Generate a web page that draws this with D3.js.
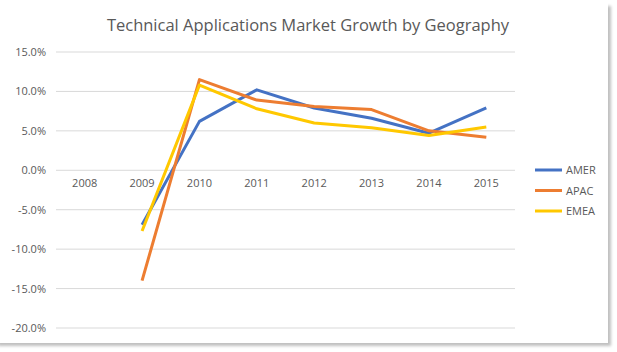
<!DOCTYPE html>
<html>
<head>
<meta charset="utf-8">
<script src="https://cdn.jsdelivr.net/npm/d3@7"></script>
<style>
  body { margin: 0; background: #fff; }
  text { font-family: "Open Sans", "Liberation Sans", sans-serif; }
</style>
</head>
<body>
<div id="vis"></div>
<script>
const years = ["2008", "2009", "2010", "2011", "2012", "2013", "2014", "2015"];
const seriesNames = ["AMER", "APAC", "EMEA"];
const colors = ["#4472c4", "#ed7d31", "#ffc800"];
// null = no value for that year
const amer = [null, -6.9, 6.2, 10.2, 7.9, 6.6, 4.7, 7.9];
const apac = [null, -14.0, 11.5, 8.9, 8.1, 7.7, 5.0, 4.2];
const emea = [null, -7.7, 10.8, 7.8, 6.0, 5.4, 4.4, 5.5];
const yTicks = [15, 10, 5, 0, -5, -10, -15, -20];

const WIDTH = 617;
const HEIGHT = 352;
const margin = { top: 52, bottom: 24, left: 56, right: 102 };

const svg = d3.select("#vis").append("svg")
  .attr("width", WIDTH).attr("height", HEIGHT);

// chart frame with soft shadow on right / bottom
const defs = svg.append("defs");
const f = defs.append("filter").attr("id", "sh")
  .attr("x", "-5%").attr("y", "-5%").attr("width", "110%").attr("height", "110%");
f.append("feGaussianBlur").attr("in", "SourceAlpha").attr("stdDeviation", 1.8);
f.append("feOffset").attr("dx", 3).attr("dy", 3).attr("result", "b");
f.append("feComponentTransfer").append("feFuncA").attr("type", "linear").attr("slope", 0.25);
const m = f.append("feMerge");
m.append("feMergeNode");
m.append("feMergeNode").attr("in", "SourceGraphic");

svg.append("rect")
  .attr("x", -5).attr("y", 3).attr("width", 613).attr("height", 340)
  .attr("fill", "#fff").attr("filter", "url(#sh)");

const x = d3.scaleBand().domain(years).range([margin.left, 515]);
const y = d3.scaleLinear().domain([-20, 15]).range([328, margin.top]);

// gridlines
svg.append("g")
  .selectAll("line").data(yTicks).join("line")
  .attr("x1", margin.left).attr("x2", 515)
  .attr("y1", d => y(d)).attr("y2", d => y(d))
  .attr("stroke", "#d9d9d9").attr("stroke-width", 1);

// y axis labels
const ejeY = d3.axisLeft(y).tickValues(yTicks).tickSize(0).tickPadding(8)
  .tickFormat(d => d.toFixed(1) + "%");
svg.append("g")
  .attr("transform", `translate(${margin.left - 2}, 0)`)
  .call(ejeY)
  .call(g => g.select(".domain").remove())
  .selectAll("text")
  .attr("fill", "#595959").style("font-size", "11px")
  .style("font-family", "'Open Sans', 'Liberation Sans', sans-serif");

// x axis labels sit on the 0% line
const ejeX = d3.axisBottom(x).tickSize(0).tickPadding(9);
svg.append("g")
  .attr("transform", `translate(0, ${y(0)})`)
  .call(ejeX)
  .call(g => g.select(".domain").remove())
  .selectAll("text")
  .attr("fill", "#595959").style("font-size", "11px")
  .style("font-family", "'Open Sans', 'Liberation Sans', sans-serif");

// lines
const data = [amer, apac, emea];
const line = d3.line()
  .defined(d => d != null)
  .x((d, i) => x(years[i]) + x.bandwidth() / 2)
  .y(d => y(d));

svg.append("g")
  .selectAll("path").data(data).join("path")
  .attr("d", line)
  .attr("fill", "none")
  .attr("stroke", (d, i) => colors[i])
  .attr("stroke-width", 3)
  .attr("stroke-linejoin", "round")
  .attr("stroke-linecap", "butt");

// title
svg.append("text")
  .attr("x", 308).attr("y", 31)
  .attr("text-anchor", "middle")
  .attr("fill", "#595959")
  .style("font-size", "16.5px")
  .text("Technical Applications Market Growth by Geography");

// legend
const legend = svg.append("g")
  .selectAll("g").data(seriesNames).join("g")
  .attr("transform", (d, i) => `translate(535, ${170 + i * 20.5})`);
legend.append("line")
  .attr("x1", 0).attr("x2", 27)
  .attr("stroke", (d, i) => colors[i]).attr("stroke-width", 3);
legend.append("text")
  .attr("x", 31).attr("y", 4)
  .attr("fill", "#595959").style("font-size", "11px")
  .text(d => d);
</script>
</body>
</html>
